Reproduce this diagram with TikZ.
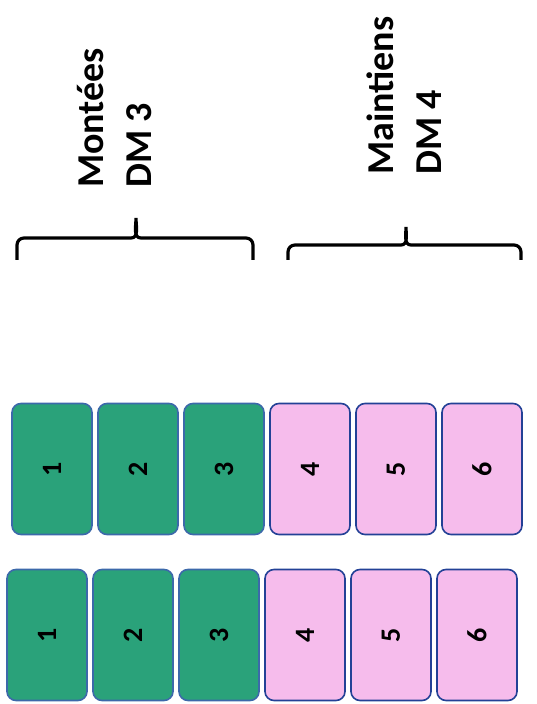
\documentclass[tikz,border=0pt]{standalone}
\usepackage{fontspec}
\setmainfont{Carlito}
\usepackage{tikz}
\definecolor{greenfill}{RGB}{42,162,122}
\definecolor{greenline}{RGB}{60,105,170}
\definecolor{pinkfill}{RGB}{246,188,236}
\definecolor{pinkline}{RGB}{35,65,150}
\tikzstyle{card}=[rotate=90, minimum width=131pt, minimum height=80pt, rounded corners=9pt, line width=1.6pt, inner sep=0pt, font=\fontsize{28}{30}\selectfont\bfseries]
\tikzstyle{greencard}=[card, draw=greenline, fill=greenfill]
\tikzstyle{pinkcard}=[card, draw=pinkline, fill=pinkfill]
\tikzstyle{heading}=[rotate=90, anchor=south west, align=left, inner sep=0pt, font=\fontsize{38}{48}\selectfont\bfseries]
\tikzstyle{bracket}=[draw=black, line width=3.2pt]

\begin{document}
\begin{tikzpicture}[x=1pt, y=1pt]
		   \useasboundingbox (0,0) rectangle (536,704);
		   \begin{scope}
			   \node (montees) at (152, 516)[heading] {Montées\\DM 3};
			   \node (maintiens) at (442, 529)[heading] {Maintiens\\DM 4};
		   \end{scope}
		   \begin{scope}
			   \path [bracket] (17,444) -- (17,459) to[out=90,in=180] (24,466) -- (131,466)
				   to[out=0,in=-90] (136,486) to[out=-90,in=180] (141,466)
				   -- (246,466) to[out=0,in=90] (253,459) -- (253,444);
			   \path [bracket] (288,444) -- (288,452) to[out=90,in=180] (295,459) -- (401,459)
				   to[out=0,in=-90] (406,477) to[out=-90,in=180] (411,459)
				   -- (514,459) to[out=0,in=90] (521,452) -- (521,444);
		   \end{scope}
		   \begin{scope}
			   \node (t1) at (52, 235)[greencard] {1};
			   \node (t2) at (138, 235)[greencard] {2};
			   \node (t3) at (224, 235)[greencard] {3};
			   \node (t4) at (310, 235)[pinkcard] {4};
			   \node (t5) at (396, 235)[pinkcard] {5};
			   \node (t6) at (482, 235)[pinkcard] {6};
		   \end{scope}
		   \begin{scope}
			   \node (b1) at (47, 69)[greencard] {1};
			   \node (b2) at (133, 69)[greencard] {2};
			   \node (b3) at (219, 69)[greencard] {3};
			   \node (b4) at (305, 69)[pinkcard] {4};
			   \node (b5) at (391, 69)[pinkcard] {5};
			   \node (b6) at (477, 69)[pinkcard] {6};
		   \end{scope}
	   \end{tikzpicture}
\end{document}
